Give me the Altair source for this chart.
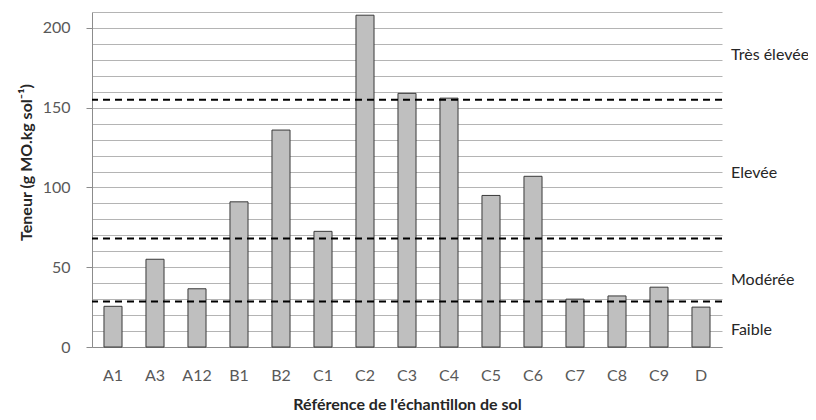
import altair as alt
import pandas as pd

samples = ["A1", "A3", "A12", "B1", "B2", "C1", "C2", "C3", "C4", "C5", "C6", "C7", "C8", "C9", "D"]
teneur = [25.5, 55, 36.5, 91, 136, 72.5, 208, 159, 156, 95, 107, 30, 32, 37.5, 25]

seuils = [28.5, 68, 155]
classes = ["Faible", "Modérée", "Elevée", "Très élevée"]
classe_pos = [10.5, 42, 109, 183]

grid_values = list(range(0, 211, 10))

FONT = "Lato"

bars_df = pd.DataFrame({"sample": samples, "teneur": teneur})
seuils_df = pd.DataFrame({"seuil": seuils})
classes_df = pd.DataFrame({"classe": classes, "pos": classe_pos})

yscale = alt.Scale(domain=[0, 210], nice=False)

bars = alt.Chart(bars_df).mark_bar(
    fill="#bfbfbf", stroke="#3a3a3a", strokeWidth=1
).encode(
    x=alt.X("sample:N", sort=samples,
            scale=alt.Scale(paddingInner=0.57, paddingOuter=0.285),
            axis=alt.Axis(title="Référence de l'échantillon de sol", labelAngle=0,
                          ticks=False, labelPadding=20, titlePadding=13,
                          domainColor="#8c8c8c", grid=False)),
    y=alt.Y("teneur:Q", scale=yscale,
            axis=alt.Axis(title="Teneur (g MO.kg sol⁻¹)", values=grid_values,
                          tickCount=len(grid_values),
                          labelExpr="datum.value % 50 == 0 ? datum.label : ''",
                          labelOverlap=False,
                          tickOpacity={"condition": {"test": "datum.value % 50 == 0", "value": 1}, "value": 0},
                          tickSize=6, tickColor="#8c8c8c", labelPadding=16,
                          titlePadding=8, titleY=150, domainColor="#8c8c8c",
                          grid=True, gridColor="#b4b4b4", gridWidth=1)),
)

rules = alt.Chart(seuils_df).mark_rule(
    color="black", strokeWidth=2, strokeDash=[7, 5]
).encode(y=alt.Y("seuil:Q", scale=yscale))

labels = alt.Chart(classes_df).mark_text(
    align="left", baseline="middle", fontSize=16, font=FONT, color="#262626"
).encode(
    x=alt.value(639),
    y=alt.Y("pos:Q", scale=yscale),
    text="classe:N",
)

chart = alt.layer(bars, rules, labels).properties(
    width=630, height=335,
    autosize=alt.AutoSizeParams(type="none"),
    padding={"left": 84, "top": 4, "right": 86, "bottom": 65},
).configure_axis(
    labelFont=FONT, titleFont=FONT, labelFontSize=16, titleFontSize=16,
    labelColor="#595959", titleColor="#262626", titleFontWeight="bold",
).configure_view(stroke=None)

chart.save("out.html", embed_options={"renderer": "svg", "actions": False})
